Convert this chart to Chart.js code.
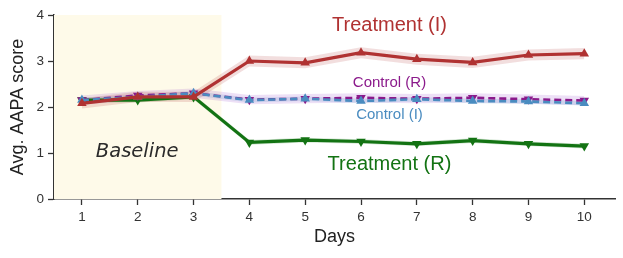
<!DOCTYPE html>
<html><head><meta charset="utf-8">
<script src="https://cdn.jsdelivr.net/npm/chart.js@4/dist/chart.umd.min.js"></script>
<style>html,body{margin:0;padding:0;background:#fff;}#wrap{width:623px;height:258px;}</style>
</head><body><div id="wrap"><canvas id="c" width="623" height="258"></canvas></div>
<script>
const days = [1,2,3,4,5,6,7,8,9,10];
const yTicks = [0,1,2,3,4];
const treatI = [2.08,2.22,2.22,3.00,2.96,3.18,3.04,2.97,3.13,3.16];
const treatR = [2.15,2.15,2.22,1.23,1.28,1.25,1.20,1.27,1.20,1.15];
const ctrlR  = [2.15,2.25,2.30,2.16,2.18,2.20,2.18,2.20,2.17,2.14];
const ctrlI  = [2.15,2.22,2.30,2.15,2.18,2.13,2.17,2.13,2.12,2.08];
const errTreatI = [0.11,0.11,0.11,0.12,0.12,0.12,0.12,0.12,0.12,0.12];
const errTreatR = [0.05,0.05,0.05,0.05,0.05,0.05,0.05,0.05,0.05,0.05];
const errCtrlR  = [0.10,0.10,0.10,0.10,0.10,0.10,0.10,0.10,0.10,0.10];
const errCtrlI  = [0.05,0.05,0.05,0.05,0.05,0.05,0.05,0.05,0.05,0.05];
const baselineRange = [0.5,3.5];
const labels = [
  {text:'Treatment (I)', x:6.51, y:3.78, color:'#b03232', size:20, font:'"Liberation Sans", Arial, sans-serif', style:''},
  {text:'Control (R)', x:6.51, y:2.52, color:'#8b1a8b', size:15, font:'"Liberation Sans", Arial, sans-serif', style:''},
  {text:'Control (I)', x:6.51, y:1.83, color:'#4a8cc0', size:15, font:'"Liberation Sans", Arial, sans-serif', style:''},
  {text:'Treatment (R)', x:6.51, y:0.74, color:'#137313', size:20, font:'"Liberation Sans", Arial, sans-serif', style:''},
  {text:'Baseline', x:1.99, y:1.02, color:'#2b2b2b', size:19.5, font:'"DejaVu Sans", sans-serif', style:'italic '}
];

const pts = arr => arr.map((v,i)=>({x:days[i], y:v}));
const band = (arr, err, sign) => arr.map((v,i)=>({x:days[i], y:v+sign*err[i]}));

function series(name, arr, err, color, bandColor, down, dashed, width){
  return [
    {label:name, data:pts(arr), borderColor:color, backgroundColor:color, borderWidth:width,
     borderDash: dashed?[7,4]:[], pointStyle:'triangle', rotation: down?180:0, pointRadius:5.5,
     pointBorderWidth:0, fill:false, order:1},
    {label:name+' hi', data:band(arr,err,1), borderWidth:0, pointRadius:0, fill:false, order:10, backgroundColor:bandColor, borderColor:'rgba(0,0,0,0)'},
    {label:name+' lo', data:band(arr,err,-1), borderWidth:0, pointRadius:0, fill:'-1', order:10, backgroundColor:bandColor, borderColor:'rgba(0,0,0,0)'}
  ];
}

// earlier in the list = drawn on top
const datasets = [
  ...series('Treatment (I)', treatI, errTreatI, '#b03232', 'rgba(176,50,50,0.16)', false, false, 3.2),
  ...series('Control (I)', ctrlI, errCtrlI, '#4a8cc0', 'rgba(74,140,192,0.18)', false, true, 2.6),
  ...series('Control (R)', ctrlR, errCtrlR, '#8b1a8b', 'rgba(150,70,200,0.17)', true, true, 2.6),
  ...series('Treatment (R)', treatR, errTreatR, '#137313', 'rgba(19,115,19,0.18)', true, false, 3.2)
];

const bgPlugin = {
  id:'bg',
  beforeDatasetsDraw(chart){
    const {ctx, chartArea:a, scales:{x}} = chart;
    ctx.save();
    ctx.fillStyle = '#fefae9';
    const x0 = x.getPixelForValue(baselineRange[0]), x1 = x.getPixelForValue(baselineRange[1]);
    ctx.fillRect(x0, a.top, x1-x0, a.bottom-a.top);
    ctx.restore();
  },
  afterDatasetsDraw(chart){
    const {ctx, scales:{x,y}} = chart;
    ctx.save();
    ctx.textAlign='center'; ctx.textBaseline='middle';
    for(const l of labels){
      ctx.font = l.style + l.size + 'px ' + l.font;
      ctx.fillStyle = l.color;
      ctx.fillText(l.text, x.getPixelForValue(l.x), y.getPixelForValue(l.y));
    }
    ctx.restore();
  }
};

const FONT = '"Liberation Sans", Arial, sans-serif';
new Chart(document.getElementById('c'), {
  type:'line',
  data:{datasets},
  options:{
    responsive:false, animation:false,
    layout:{padding:{top:15,right:8,left:0,bottom:0}},
    plugins:{legend:{display:false}, tooltip:{enabled:false}},
    scales:{
      x:{type:'linear', min:0.5, max:10.55,
        afterBuildTicks(s){ s.ticks = days.map(v=>({value:v})); },
        afterFit(s){ s.height = 59; },
        grid:{drawOnChartArea:false, drawTicks:true, tickLength:6, tickColor:'#333', tickWidth:1.3, color:'#333'},
        border:{color:'#333', width:1.5},
        ticks:{color:'#333', font:{family:FONT, size:13.5}, padding:4, maxRotation:0},
        title:{display:true, text:'Days', color:'#222', font:{family:FONT, size:18}, padding:{top:0,bottom:10}}
      },
      y:{min:0, max:4,
        afterBuildTicks(s){ s.ticks = yTicks.map(v=>({value:v})); },
        afterFit(s){ s.width = 54; },
        grid:{drawOnChartArea:false, drawTicks:true, tickLength:6, tickColor:'#333', tickWidth:1.3, color:'#333'},
        border:{color:'#333', width:1.5},
        ticks:{color:'#333', font:{family:FONT, size:13.5}, padding:4},
        title:{display:true, text:'Avg. AAPA score', color:'#222', font:{family:FONT, size:18}, padding:{top:7,bottom:0}}
      }
    }
  },
  plugins:[bgPlugin]
});
</script></body></html>
